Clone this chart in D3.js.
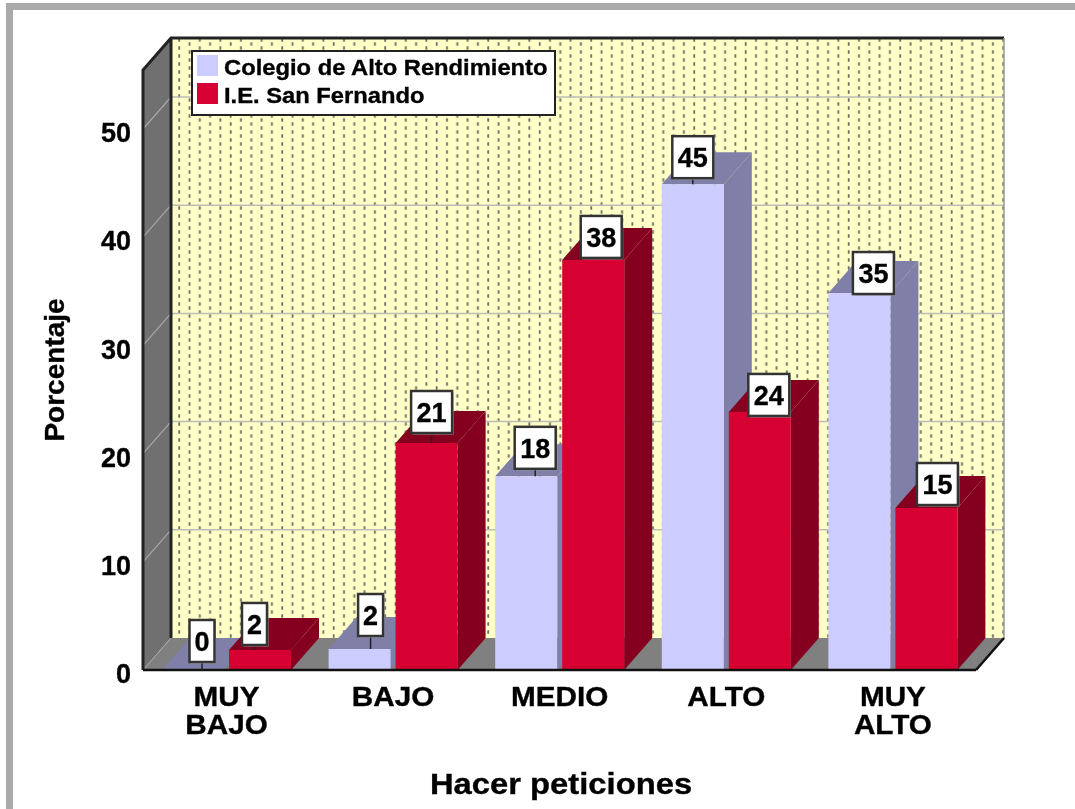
<!DOCTYPE html>
<html><head><meta charset="utf-8">
<script src="https://cdn.jsdelivr.net/npm/d3@7/dist/d3.min.js"></script>
<style>
html,body{margin:0;padding:0;background:#fff;overflow:hidden}
svg{display:block;filter:blur(0.5px)}
text{font-family:"Liberation Sans",Arial,sans-serif;font-weight:bold;fill:#000;stroke:#000;stroke-width:0.35px}
</style></head><body>
<svg id="c" width="1075" height="809"></svg>
<script>
const categories = ["MUY BAJO", "BAJO", "MEDIO", "ALTO", "MUY ALTO"];
const seriesNames = ["Colegio de Alto Rendimiento", "I.E. San Fernando"];
const colegio = [0, 1.94, 17.9, 44.9, 34.84];
const sanFernando = [1.85, 20.98, 37.9, 23.85, 14.97];
const yTicks = [0, 10, 20, 30, 40, 50];
const xTitle = "Hacer peticiones";
const yTitle = "Porcentaje";

// layout only: label box displacement from each bar's top centre
const labelDx = [[9, 11, 9, 0, 14], [-5.5, 5, 8, 9, 11]];
const labelDy = [[-29, -34, -28.5, -27, -20], [-26, -31, -23, -17, -24]];

const frontColor = ["#ccccff", "#d70033"];
const sideColor = ["#7f7fa8", "#85001f"];
const dx = 28, dy = -32;

const svg = d3.select("#c");
const defs = svg.append("defs");
const pat = defs.append("pattern").attr("id", "dots").attr("patternUnits", "userSpaceOnUse")
  .attr("x", 178).attr("y", 38).attr("width", 20.6).attr("height", 8);
pat.append("rect").attr("width", 20.6).attr("height", 8).attr("fill", "#ffffc8");
pat.append("rect").attr("x", 0.3).attr("y", 0.3).attr("width", 1.8).attr("height", 3.4).attr("fill", "#6a6a5e");
pat.append("rect").attr("x", 10.6).attr("y", 4.3).attr("width", 1.8).attr("height", 3.4).attr("fill", "#6a6a5e");

// outer frame
svg.append("rect").attr("x", 6).attr("y", 3).attr("width", 1069).attr("height", 7).attr("fill", "#aaaaaa");
svg.append("rect").attr("x", 6).attr("y", 3).attr("width", 7).attr("height", 806).attr("fill", "#aaaaaa");

const y = d3.scaleLinear().domain([0, 600 / 10.82]).range([670, 70]);
const x0 = d3.scaleBand().domain(categories).range([143.2, 976.2]).paddingInner(0.2257).paddingOuter(0.1128);
const x1 = d3.scaleBand().domain(seriesNames).range([0, x0.bandwidth()]).paddingInner(0.0746);

const L = y.range()[1], B = y.range()[0], X0 = 143, X1 = 976;
const poly = p => p.map(d => d.join(",")).join(" ");

// back wall, left wall, floor
svg.append("rect").attr("x", X0 + dx).attr("y", L + dy).attr("width", X1 - X0).attr("height", B - L)
  .attr("fill", "url(#dots)");
svg.append("polygon").attr("points", poly([[X0, L], [X0 + dx, L + dy], [X0 + dx, B + dy], [X0, B]]))
  .attr("fill", "#707070");
svg.append("polygon").attr("points", poly([[X0, B], [X0 + dx, B + dy], [X1 + dx, B + dy], [X1, B]]))
  .attr("fill", "#808080");

// gridlines
yTicks.filter(t => t > 0).forEach(t => {
  svg.append("line").attr("x1", X0 + dx).attr("x2", X1 + dx).attr("y1", y(t) + dy).attr("y2", y(t) + dy)
    .attr("stroke", "#bdbdb8").attr("stroke-width", 1.5);
  svg.append("line").attr("x1", X0).attr("x2", X0 + dx).attr("y1", y(t)).attr("y2", y(t) + dy)
    .attr("stroke", "#a8a8a8").attr("stroke-width", 1.2);
});
svg.append("line").attr("x1", X0).attr("x2", X0 + dx).attr("y1", B).attr("y2", B + dy)
  .attr("stroke", "#a8a8a8").attr("stroke-width", 1);

// wall outlines
svg.append("path").attr("fill", "none").attr("stroke", "#222").attr("stroke-width", 3)
  .attr("d", `M${X0},${B}V${L}L${X0 + dx},${L + dy}H${X1 + dx}`);
svg.append("path").attr("fill", "none").attr("stroke", "#222").attr("stroke-width", 3)
  .attr("d", `M${X0 + dx},${L + dy}V${B + dy}`);
svg.append("path").attr("fill", "none").attr("stroke", "#999").attr("stroke-width", 1.5)
  .attr("d", `M${X1 + dx},${L + dy}V${B + dy}`);
svg.append("path").attr("fill", "none").attr("stroke", "#111").attr("stroke-width", 2.5)
  .attr("d", `M${X1},${B}L${X1 + dx},${B + dy}`);

// bars
const allSeries = [colegio, sanFernando];
const labels = [];
categories.forEach((c, i) => {
  seriesNames.forEach((s, k) => {
    const v = allSeries[k][i];
    const xa = x0(c) + x1(s), w = x1.bandwidth(), t = y(v);
    svg.append("polygon").attr("fill", sideColor[k])
      .attr("points", poly([[xa, t], [xa + dx, t + dy], [xa + w + dx, t + dy], [xa + w, t]]));
    svg.append("polygon").attr("fill", sideColor[k])
      .attr("points", poly([[xa + w, t], [xa + w + dx, t + dy], [xa + w + dx, B + dy], [xa + w, B]]));
    svg.append("rect").attr("x", xa).attr("y", t).attr("width", w).attr("height", B - t).attr("fill", frontColor[k]);
    labels.push({ v, cx: xa + w / 2 + labelDx[k][i], cy: t + labelDy[k][i], t });
  });
});
svg.append("line").attr("x1", X0).attr("x2", X1).attr("y1", B).attr("y2", B).attr("stroke", "#111").attr("stroke-width", 2.5);

// value labels
const fmt = d3.format(".0f");
labels.forEach(d => {
  const str = fmt(d.v), bw = str.length > 1 ? 41 : 25, bh = 42;
  svg.append("line").attr("x1", d.cx).attr("x2", d.cx).attr("y1", d.cy + bh / 2).attr("y2", d.t)
    .attr("stroke", "#222").attr("stroke-width", 1.5);
  svg.append("rect").attr("x", d.cx - bw / 2 + 1.5).attr("y", d.cy - bh / 2 + 1.5).attr("width", bw).attr("height", bh)
    .attr("fill", "#aaaaaa");
  svg.append("rect").attr("x", d.cx - bw / 2).attr("y", d.cy - bh / 2).attr("width", bw).attr("height", bh)
    .attr("fill", "#fff").attr("stroke", "#333").attr("stroke-width", 2.5);
  svg.append("text").attr("x", d.cx).attr("y", d.cy + 10)
    .attr("text-anchor", "middle").attr("font-size", 27).text(str);
});

// axes
const yAxis = svg.append("g").attr("transform", "translate(131,4)")
  .call(d3.axisLeft(y).tickValues(yTicks).tickSize(0).tickPadding(0));
yAxis.select(".domain").remove();
yAxis.selectAll("text").attr("font-size", 27).attr("x", 0).attr("dy", "0.32em")
  .style("font-family", '"Liberation Sans",Arial,sans-serif').style("font-weight", "bold");

const xAxis = svg.append("g").attr("transform", `translate(0,${B})`)
  .call(d3.axisBottom(x0).tickSize(0).tickPadding(0));
xAxis.select(".domain").remove();
xAxis.selectAll("text").each(function (d) {
  const t = d3.select(this).text("").attr("y", 0).attr("dy", null)
    .attr("font-size", 27).attr("transform", "scale(1.1,1)")
    .style("font-family", '"Liberation Sans",Arial,sans-serif').style("font-weight", "bold");
  d.split(" ").forEach((w, i) => t.append("tspan").attr("x", 0).attr("y", 36 + i * 28).text(w));
});

svg.append("text").attr("transform", "translate(561,794) scale(1.13,1)").attr("text-anchor", "middle")
  .attr("font-size", 29).text(xTitle);
svg.append("text").attr("transform", "translate(64,370) rotate(-90)").attr("text-anchor", "middle")
  .attr("font-size", 28).text(yTitle);

// legend
const lg = svg.append("g");
lg.append("rect").attr("x", 192).attr("y", 51).attr("width", 363).attr("height", 64)
  .attr("fill", "#fff").attr("stroke", "#222").attr("stroke-width", 2);
seriesNames.forEach((s, k) => {
  lg.append("rect").attr("x", 197).attr("y", 55 + k * 28).attr("width", 21).attr("height", 21).attr("fill", frontColor[k]);
  lg.append("text").attr("transform", `translate(224,${74.5 + k * 28}) scale(1.08,1)`)
    .attr("font-size", 22).text(s);
});
</script>
</body></html>
